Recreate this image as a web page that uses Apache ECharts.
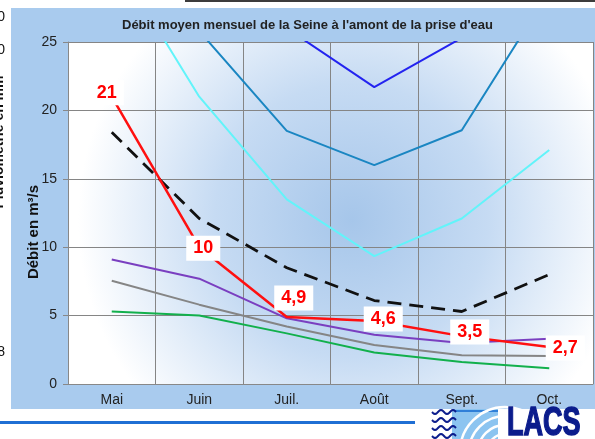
<!DOCTYPE html>
<html>
<head>
<meta charset="utf-8">
<script src="https://cdn.jsdelivr.net/npm/echarts@6/dist/echarts.min.js"></script>
<style>
  html, body { margin: 0; padding: 0; background: #fff; }
  #chart { width: 595px; height: 439px; }
</style>
</head>
<body>
<div id="chart"></div>
<script>
// mois et débits (m3/s)
const months = ['Mai', 'Juin', 'Juil.', 'Août', 'Sept.', 'Oct.']
const yTicks = [0, 5, 10, 15, 20, 25]
const debitMesure = [21, 10, 4.9, 4.6, 3.5, 2.7]
const moyenne = [18.4, 12.1, 8.5, 6.1, 5.3, 8.0]
const bleuFonce = [40, 32, 26.0, 21.7, 25.3, 34]
const bleuMoyen = [35, 25.8, 18.5, 16.0, 18.55, 28.7]
const cyan = [31.4, 21.0, 13.5, 9.35, 12.1, 17.1]
const violet = [9.1, 7.7, 4.8, 3.6, 3.0, 3.3]
const gris = [7.55, 5.8, 4.2, 2.85, 2.1, 2.05]
const vert = [5.3, 5.0, 3.7, 2.3, 1.6, 1.15]

// décalage des étiquettes rouges
const labelOffsets = [[-5, -4], [4, 1], [7, -19], [9, -2], [8, -4], [16, 1]]

const font = 'Liberation Sans, Arial, sans-serif'
const chart = echarts.init(document.getElementById('chart'))

function line (name, data, color, width, extra) {
  return Object.assign({
    name: name,
    type: 'line',
    data: data,
    symbol: 'none',
    silent: true,
    lineStyle: { color: color, width: width }
  }, extra || {})
}

// vagues du logo
function wave (y0) {
  const pts = []
  for (let x = 432; x <= 456; x += 1) {
    pts.push([x, y0 + 2 * Math.sin((x - 432) / 12 * Math.PI * 2)])
  }
  return {
    type: 'polyline', z: 102, shape: { points: pts },
    style: { stroke: '#0b1c8c', lineWidth: 2, fill: null }
  }
}

// arcs blancs du logo, limités au cadre
function logoArc (r) {
  const cx = 505
  const cy = 452
  const startA = r > cx - 455 ? Math.PI + Math.acos((cx - 455) / r) : Math.PI
  const endA = r > cy - 410 ? Math.PI * 2 - Math.asin((cy - 410) / r) : Math.PI * 1.5
  return {
    type: 'arc', z: 102,
    shape: { cx: cx, cy: cy, r: r, startAngle: startA, endAngle: Math.max(startA, endA), clockwise: true },
    style: { stroke: '#ffffff', lineWidth: 2.5, fill: null }
  }
}

const option = {
  animation: false,
  title: {
    text: 'Débit moyen mensuel de la Seine à l\'amont de la prise d\'eau',
    left: 122,
    top: 19,
    padding: 0,
    textStyle: { fontFamily: font, fontSize: 13, fontWeight: 'bold', color: '#222' }
  },
  grid: {
    left: 68,
    right: 2,
    top: 42,
    bottom: 55,
    show: true,
    borderWidth: 0,
    backgroundColor: {
      type: 'radial',
      x: 0.54,
      y: 0.52,
      r: 0.8,
      colorStops: [
        { offset: 0, color: '#a6c6ea' },
        { offset: 0.5, color: '#c6dbf3' },
        { offset: 1, color: '#ffffff' }
      ]
    }
  },
  xAxis: {
    type: 'category',
    data: months,
    boundaryGap: true,
    axisLine: { lineStyle: { color: '#888', width: 1 } },
    axisTick: { length: 5, lineStyle: { color: '#888' } },
    axisLabel: { margin: 9, fontFamily: font, fontSize: 14, color: '#222' },
    splitLine: { show: true, lineStyle: { color: '#858585', width: 1 } }
  },
  yAxis: {
    type: 'value',
    min: yTicks[0],
    max: yTicks[yTicks.length - 1],
    interval: 5,
    axisLine: { show: true, lineStyle: { color: '#888', width: 1 } },
    axisTick: { show: true, length: 5, lineStyle: { color: '#888' } },
    axisLabel: { margin: 11, fontFamily: font, fontSize: 14, color: '#222' },
    splitLine: { show: true, lineStyle: { color: '#858585', width: 1 } }
  },
  series: [
    line('bleu fonce', bleuFonce, '#2323f0', 2),
    line('bleu moyen', bleuMoyen, '#1a86c2', 2),
    line('cyan', cyan, '#62f4fa', 2),
    line('vert', vert, '#12b04c', 2),
    line('gris', gris, '#858585', 2),
    line('violet', violet, '#7a3fc0', 2),
    line('moyenne', moyenne, '#111111', 2.8, {
      lineStyle: { color: '#111111', width: 2.8, type: [14, 8] }
    }),
    line('debit', debitMesure.map((v, i) => ({
      value: v,
      label: { offset: labelOffsets[i] }
    })), '#ff1010', 2.5, {
      z: 5,
      symbol: 'circle',
      symbolSize: 2,
      itemStyle: { color: '#ff1010' },
      label: {
        show: true,
        position: 'inside',
        formatter: p => String(p.value).replace('.', ','),
        fontFamily: font,
        fontSize: 18,
        fontWeight: 'bold',
        color: '#ff0000',
        backgroundColor: '#ffffff',
        padding: [4, 7, 3, 7]
      }
    })
  ],
  graphic: [
    { type: 'rect', z: -10, shape: { x: 11, y: 8, width: 584, height: 401 }, style: { fill: '#a9cbee' } },
    {
      type: 'text', z: 10, x: 34, y: 232, rotation: Math.PI / 2,
      style: { text: 'Débit en m³/s', font: 'bold 15px ' + font, fill: '#111', align: 'center', verticalAlign: 'middle' }
    },
    // fragments du graphique voisin, coupés à gauche
    { type: 'text', z: 10, x: 5, y: 17, style: { text: '100', font: '14px ' + font, fill: '#111', align: 'right', verticalAlign: 'middle' } },
    { type: 'text', z: 10, x: 5, y: 50, style: { text: '80', font: '14px ' + font, fill: '#111', align: 'right', verticalAlign: 'middle' } },
    { type: 'text', z: 10, x: 5, y: 352, style: { text: '8', font: '14px ' + font, fill: '#111', align: 'right', verticalAlign: 'middle' } },
    {
      type: 'text', z: 10, x: -1, y: 142, rotation: Math.PI / 2,
      style: { text: 'Pluviométrie en mm', font: 'bold 14px ' + font, fill: '#111', align: 'center', verticalAlign: 'middle' }
    },
    // bords de la capture
    { type: 'rect', z: 100, shape: { x: 0, y: 409, width: 595, height: 30 }, style: { fill: '#ffffff' } },
    { type: 'rect', z: 100, shape: { x: 185, y: 0, width: 410, height: 2 }, style: { fill: '#3c3c3c' } },
    { type: 'rect', z: 101, shape: { x: 0, y: 421, width: 415, height: 3 }, style: { fill: '#1f6fd4' } },
    // logo LACS
    { type: 'rect', z: 101, shape: { x: 452, y: 409, width: 46, height: 30 }, style: { fill: '#8cc4f0' } },
    { type: 'rect', z: 102, shape: { x: 455, y: 410, width: 43, height: 2 }, style: { fill: '#2f7fd8' } },
    logoArc(18),
    logoArc(27),
    logoArc(36),
    logoArc(45),
    wave(412),
    wave(420),
    wave(428),
    wave(436),
    {
      type: 'text', z: 102, x: 507, y: 424, scaleX: 0.66,
      style: { text: 'LACS', font: 'bold 41px ' + font, fill: '#0b1c8c', stroke: '#0b1c8c', lineWidth: 1.5, align: 'left', verticalAlign: 'middle' }
    }
  ]
}

chart.setOption(option)
</script>
</body>
</html>
